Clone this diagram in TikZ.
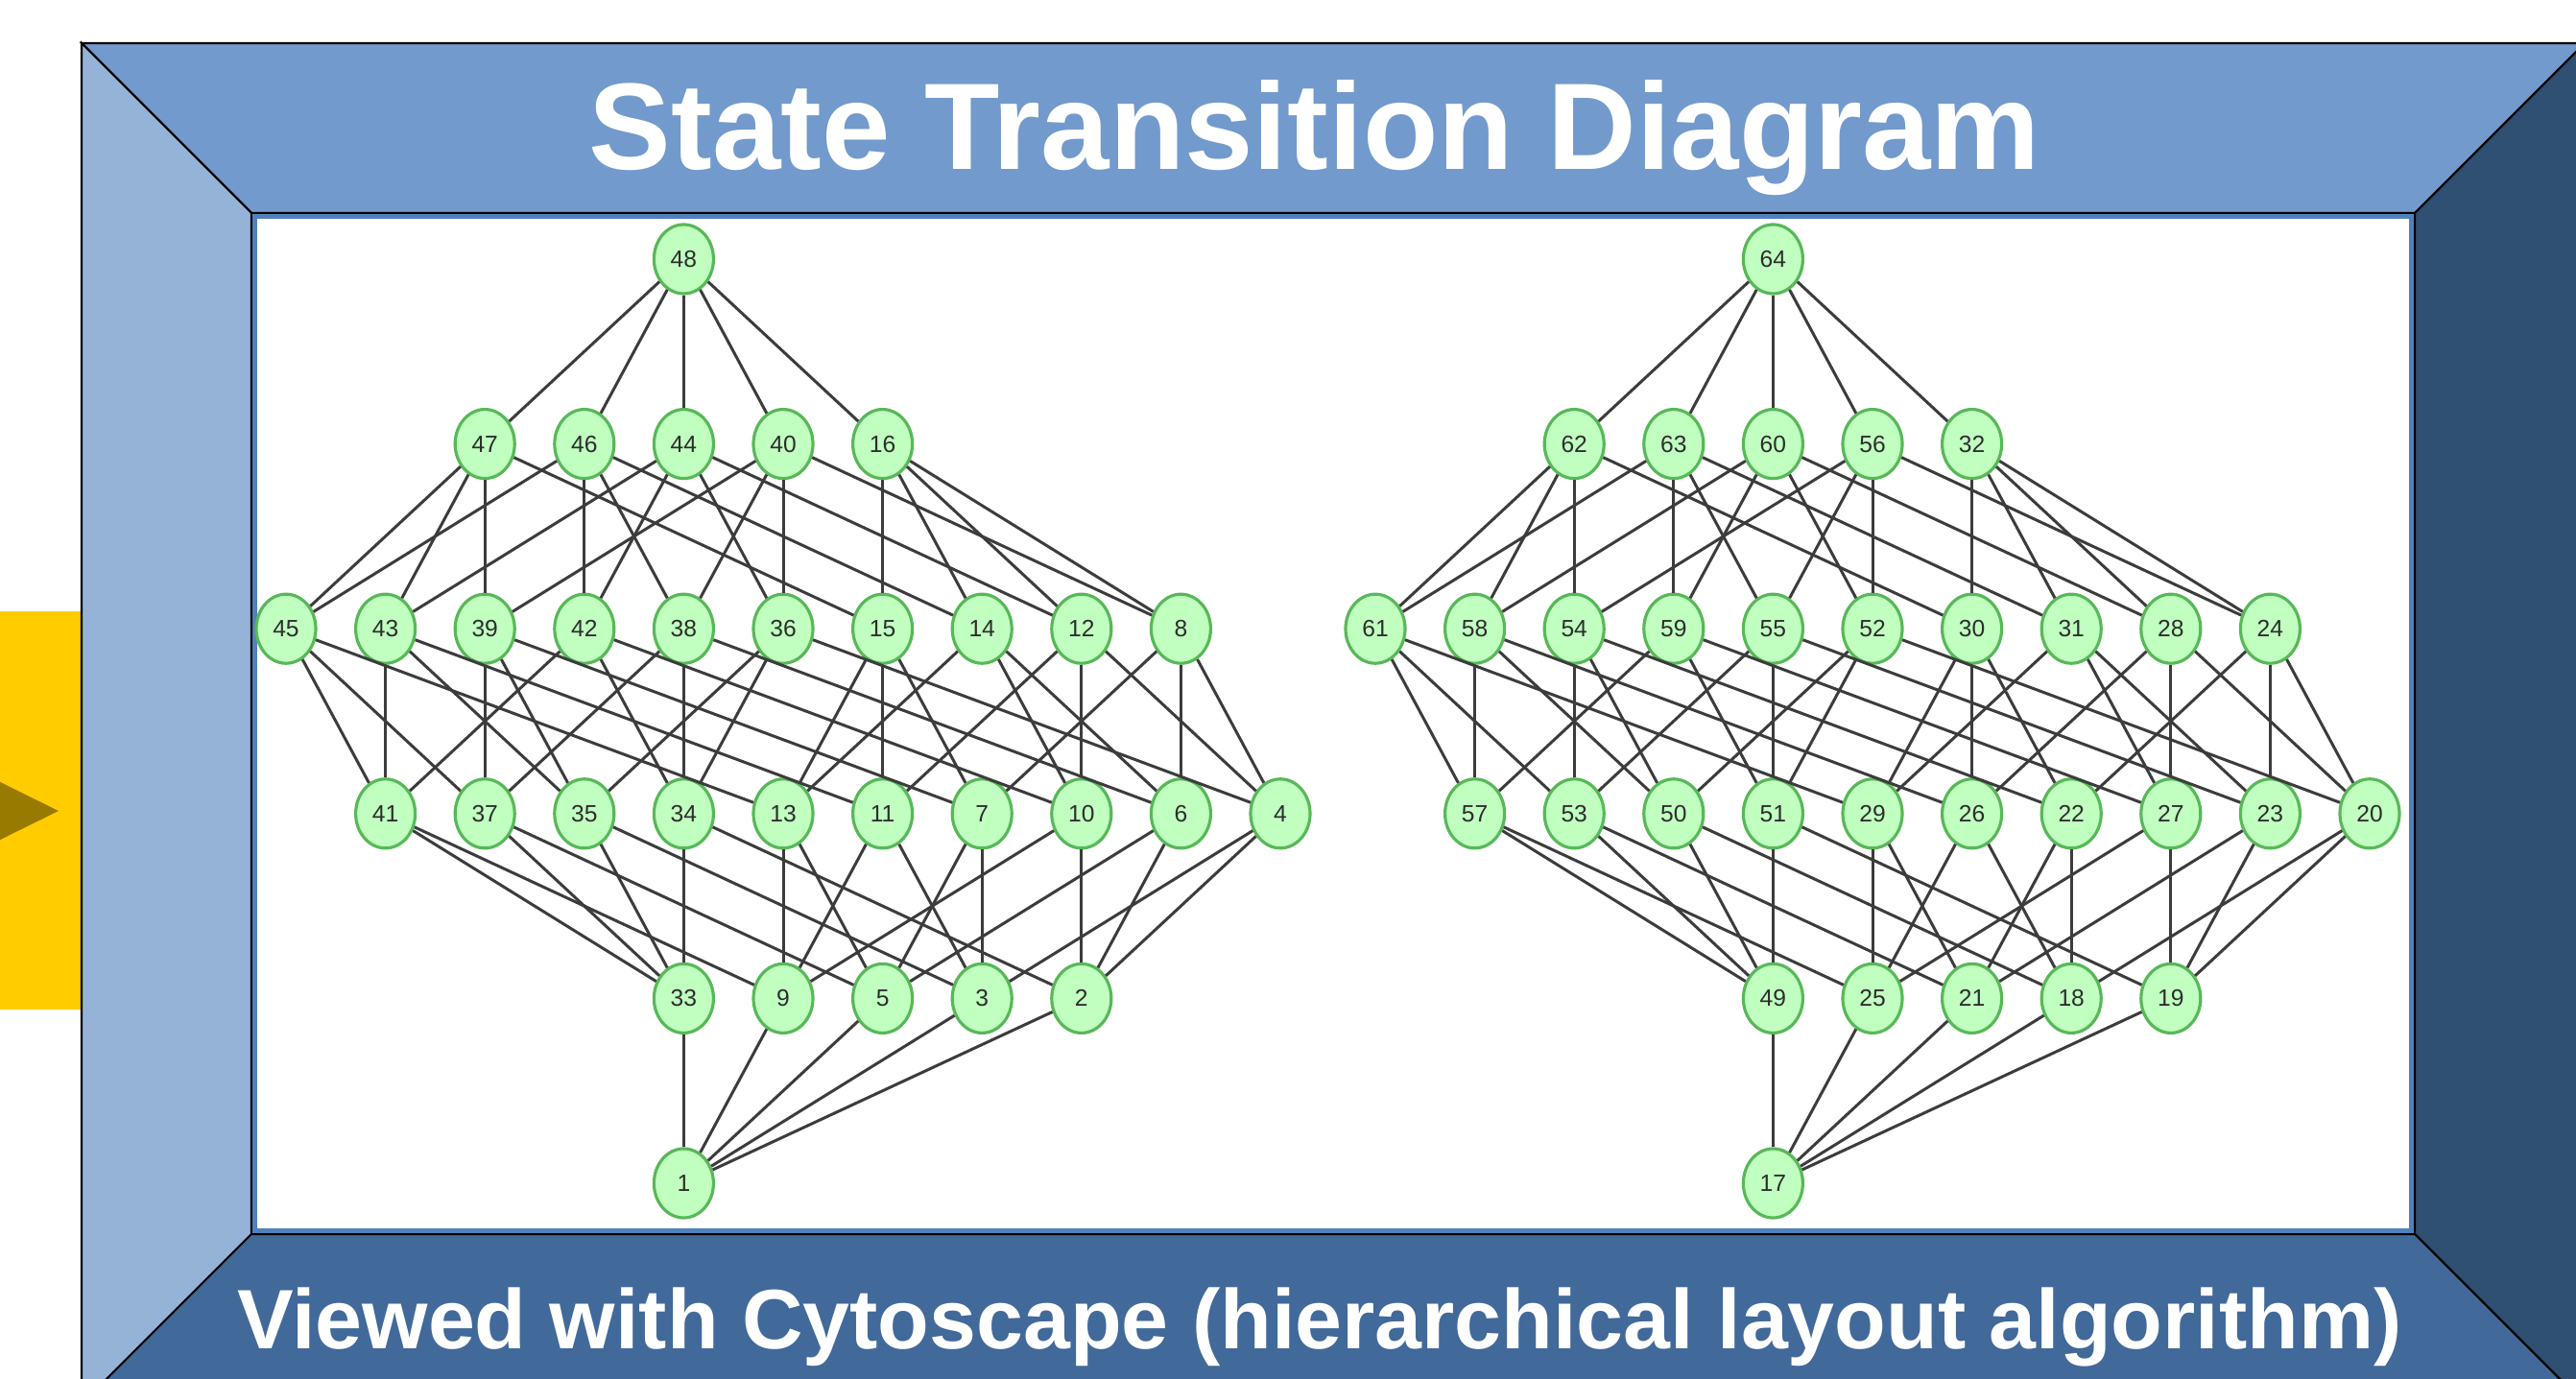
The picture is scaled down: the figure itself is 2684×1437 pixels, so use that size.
\documentclass[tikz,border=0pt]{standalone}
\usepackage{fontspec}
\setmainfont{Liberation Sans}
\usetikzlibrary{shapes.geometric}
\definecolor{TopClr}{RGB}{114,154,204}
\definecolor{LeftClr}{RGB}{149,179,215}
\definecolor{RightClr}{RGB}{47,79,115}
\definecolor{BottomClr}{RGB}{65,105,154}
\definecolor{InnerClr}{RGB}{79,129,189}
\definecolor{TabClr}{RGB}{255,204,0}
\definecolor{TipClr}{RGB}{153,122,0}
\definecolor{NodeFill}{RGB}{192,255,192}
\definecolor{NodeLine}{RGB}{88,184,88}
\definecolor{NodeText}{RGB}{45,45,45}
\definecolor{EdgeClr}{RGB}{60,60,60}

\begin{document}
\begin{tikzpicture}[x=0.01cm,y=-0.01cm,
  state/.style={ellipse,draw=NodeLine,fill=NodeFill,line width=0.9pt,
    minimum width=0.62cm,minimum height=0.72cm,inner sep=0pt,
    text=NodeText,font=\fontsize{7}{8}\selectfont},
  edge/.style={draw=EdgeClr,line width=0.85pt},
  bevel/.style={draw=black,line width=0.6pt}]
\useasboundingbox (0,0) rectangle (2684,1437);
\clip (0,0) rectangle (2684,1437);

\fill[TabClr] (0,637) rectangle (85,1052);
\fill[TipClr] (-20,805) -- (61,845) -- (-20,885) -- cycle;

\filldraw[bevel,fill=TopClr] (85,45) -- (2693,45) -- (2516,222) -- (262,222) -- cycle;
\filldraw[bevel,fill=LeftClr] (85,45) -- (262,222) -- (262,1286) -- (85,1463) -- cycle;
\filldraw[bevel,fill=RightClr] (2693,45) -- (2693,1463) -- (2516,1286) -- (2516,222) -- cycle;
\filldraw[bevel,fill=BottomClr] (85,1463) -- (262,1286) -- (2516,1286) -- (2693,1463) -- cycle;
\filldraw[bevel,fill=white] (262,222) rectangle (2516,1286);
\draw[InnerClr,line width=1.4pt] (265.5,225.5) rectangle (2512.5,1282.5);

\node[anchor=base,text=white,font=\bfseries\fontsize{36.5}{40}\selectfont] (title) at (1370,177) {State Transition Diagram};
\node[anchor=base,text=white,font=\bfseries\fontsize{25}{28}\selectfont] (caption) at (1375,1405) {Viewed with Cytoscape (hierarchical layout algorithm)};

\foreach \xo/\r/\c/\lst in {298/0/4/{48},298/1/2/{47,46,44,40,16},
  298/2/0/{45,43,39,42,38,36,15,14,12,8},298/3/1/{41,37,35,34,13,11,7,10,6,4},
  298/4/4/{33,9,5,3,2},298/5/4/{1},
  1433/0/4/{64},1433/1/2/{62,63,60,56,32},
  1433/2/0/{61,58,54,59,55,52,30,31,28,24},1433/3/1/{57,53,50,51,29,26,22,27,23,20},
  1433/4/4/{49,25,21,18,19},1433/5/4/{17}}
  \foreach \s [count=\k from 0] in \lst
    \node[state] (s\s) at ({\xo+103.6*(\c+\k)},{270+192.6*\r}) {\s};

\foreach \a/\bs in {48/{47,46,44,40,16},47/{45,43,39,15},46/{45,42,38,14},
  44/{43,42,36,12},40/{39,38,36,8},16/{15,14,12,8},
  45/{41,37,13},43/{41,35,11},39/{37,35,7},42/{41,34,10},38/{37,34,6},
  36/{35,34,4},15/{13,11,7},14/{13,10,6},12/{11,10,4},8/{7,6,4},
  41/{33,9},37/{33,5},35/{33,3},34/{33,2},13/{9,5},11/{9,3},7/{5,3},
  10/{9,2},6/{5,2},4/{3,2},1/{33,9,5,3,2},
  64/{62,63,60,56,32},62/{61,58,54,30},63/{61,59,55,31},60/{58,59,52,28},
  56/{54,55,52,24},32/{30,31,28,24},
  61/{57,53,29},58/{57,50,26},54/{53,50,22},59/{57,51,27},55/{53,51,23},
  52/{50,51,20},30/{29,26,22},31/{29,27,23},28/{26,27,20},24/{22,23,20},
  57/{49,25},53/{49,21},50/{49,18},51/{49,19},29/{25,21},26/{25,18},
  22/{21,18},27/{25,19},23/{21,19},20/{18,19},17/{49,25,21,18,19}}
  \foreach \b in \bs
    \draw[edge] (s\a) -- (s\b);
\end{tikzpicture}
\end{document}
